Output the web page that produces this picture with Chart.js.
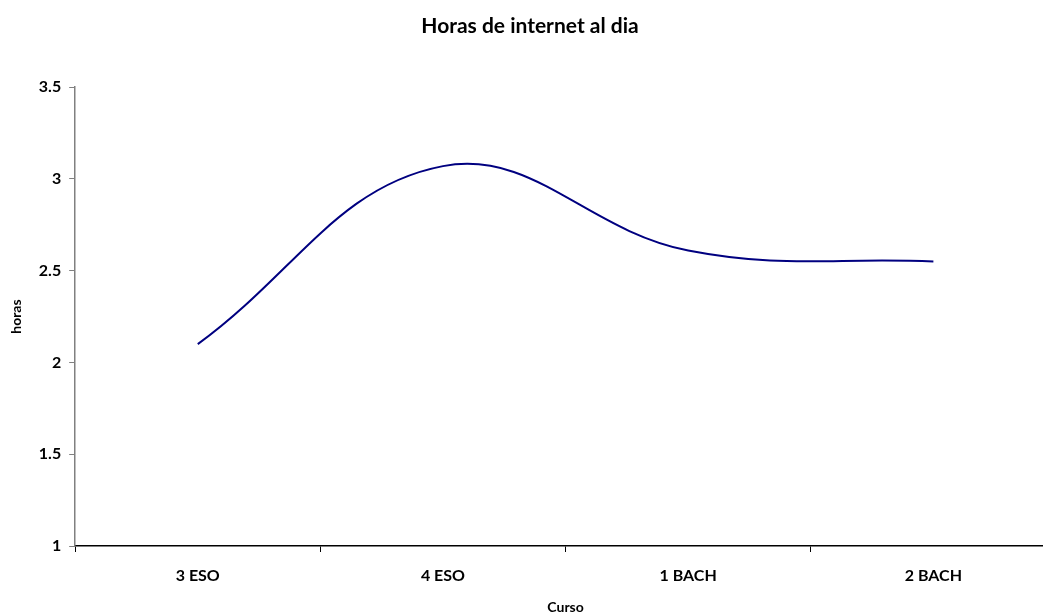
<!DOCTYPE html>
<html>
<head>
<meta charset="utf-8">
<script src="https://cdn.jsdelivr.net/npm/chart.js@4"></script>
<style>
  html, body { margin: 0; padding: 0; background: #fff; overflow: hidden; }
  #wrap { width: 1056px; height: 616px; }
</style>
</head>
<body>
<div id="wrap"><canvas id="chart"></canvas></div>
<script>
const categories = ["3 ESO", "4 ESO", "1 BACH", "2 BACH"];
const horas = [2.1, 3.07, 2.61, 2.55];
const yTicks = [1, 1.5, 2, 2.5, 3, 3.5];

const font = "Lato, 'Open Sans', sans-serif";

const config = {
  type: 'line',
  data: {
    labels: categories,
    datasets: [{
      label: 'horas',
      data: horas,
      borderColor: '#000080',
      borderWidth: 2,
      pointRadius: 0,
      tension: 0.4,
      fill: false
    }]
  },
  options: {
    responsive: true,
    maintainAspectRatio: false,
    animation: false,
    layout: { padding: { top: 8, right: 0, left: 4, bottom: 0 } },
    plugins: {
      legend: { display: false },
      tooltip: { enabled: false },
      title: {
        display: true,
        text: 'Horas de internet al dia',
        color: '#000',
        font: { family: font, size: 21, weight: 'bold' },
        padding: { top: 6, bottom: 48 }
      }
    },
    scales: {
      x: {
        offset: true,
        grid: { offset: true, drawOnChartArea: false, drawTicks: true, tickLength: 6, color: '#000' },
        border: { color: '#000', width: 1.5 },
        ticks: { color: '#000', font: { family: font, size: 16, weight: 'bold' }, padding: 14 },
        title: { display: true, text: 'Curso', color: '#000', font: { family: font, size: 14, weight: 'bold' }, padding: { top: 0, bottom: 0 } }
      },
      y: {
        min: 1,
        max: 3.5,
        afterBuildTicks: (axis) => { axis.ticks = yTicks.map(v => ({ value: v })); },
        grid: { drawOnChartArea: false, drawTicks: true, tickLength: 6, color: '#808080' },
        border: { color: '#808080', width: 1.5 },
        ticks: { color: '#000', font: { family: font, size: 16, weight: 'bold' }, padding: 8, callback: (v) => String(v) },
        title: { display: true, text: 'horas', color: '#000', font: { family: font, size: 14, weight: 'bold' }, padding: { bottom: 6 } }
      }
    }
  }
};

new Chart(document.getElementById('chart'), config);
</script>
</body>
</html>
